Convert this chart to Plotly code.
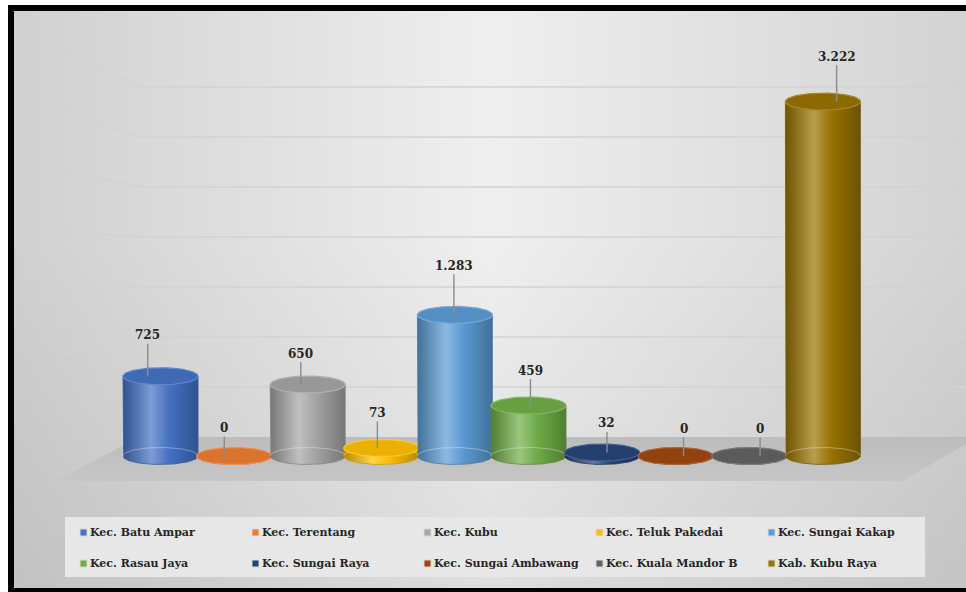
import math
import plotly.graph_objects as go

# ---------------- data ----------------
categories = ["Kec. Batu Ampar", "Kec. Terentang", "Kec. Kubu", "Kec. Teluk Pakedai",
              "Kec. Sungai Kakap", "Kec. Rasau Jaya", "Kec. Sungai Raya",
              "Kec. Sungai Ambawang", "Kec. Kuala Mandor B", "Kab. Kubu Raya"]
values = [725, 0, 650, 73, 1283, 459, 32, 0, 0, 3222]
value_labels = ["725", "0", "650", "73", "1.283", "459", "32", "0", "0", "3.222"]
grid_values = [500, 1000, 1500, 2000, 2500, 3000, 3500]

# ---------------- styling ----------------
colors = ["#4472C4", "#ED7D31", "#A5A5A5", "#FFC000", "#5B9BD5",
          "#70AD47", "#264478", "#9E480E", "#636363", "#997300"]
label_offsets_px = [41, 28, 31, 35, 49, 35, 29, 27, 27, 45]

W, H = 966, 592
X0, DX = 160.5, 73.6          # pixel centre of first cylinder, spacing
FRONT_BASE, KF = 456.0, 0.110  # front (cylinder) scale
WALL_BASE, KW = 437.0, 0.100   # back-wall scale
HW = 0.51                      # half width of cylinder (category units)
RY_PX = 8.5                    # vertical semi axis of ellipses (px)
FONT = "DejaVu Serif"


def xp(px):
    return (px - X0) / DX


def yw(py):
    return (WALL_BASE - py) / KW


def hex2rgb(h):
    h = h.lstrip("#")
    return tuple(int(h[i:i + 2], 16) for i in (0, 2, 4))


def mix(c, target, t):
    r, g, b = hex2rgb(c)
    tr, tg, tb = target
    return "rgb(%d,%d,%d)" % (round(r + (tr - r) * t), round(g + (tg - g) * t), round(b + (tb - b) * t))


fig = go.Figure()

# ---------------- background (wall scale, main axes) ----------------
bx = [xp(14), xp(966), xp(966), xp(14), xp(14)]
by = [yw(11), yw(11), yw(588), yw(588), yw(11)]
fig.add_trace(go.Scatter(x=bx, y=by, mode="lines", fill="toself", line=dict(width=0),
                         fillgradient=dict(type="horizontal",
                                           colorscale=[[0, "#d0d0d0"], [0.5, "#efefef"], [1, "#d3d3d3"]]),
                         hoverinfo="skip", showlegend=False))
fig.add_trace(go.Scatter(x=bx, y=by, mode="lines", fill="toself", line=dict(width=0),
                         fillgradient=dict(type="vertical",
                                           colorscale=[[0, "rgba(0,0,0,0.07)"], [0.6, "rgba(0,0,0,0)"],
                                                       [1, "rgba(0,0,0,0)"]]),
                         hoverinfo="skip", showlegend=False))

# floor
fx = [xp(55), xp(903), xp(966), xp(966), xp(140), xp(55)]
fy = [yw(481), yw(481), yw(444), yw(437), yw(437), yw(481)]
fig.add_trace(go.Scatter(x=fx, y=fy, mode="lines", fill="toself", line=dict(width=0),
                         fillgradient=dict(type="vertical",
                                           colorscale=[[0, "#c6c6c6"], [1, "#bcbcbc"]]),
                         hoverinfo="skip", showlegend=False))

# wall gridlines (back wall + left wall in perspective)
VPX, VPY = 483.0, 262.0
gx, gy = [], []
for g in grid_values:
    py = WALL_BASE - g * KW
    left_py = py - (140 - 60) * (VPY - py) / (VPX - 140)
    gx += [xp(60), xp(140), xp(966), None]
    gy += [yw(left_py), g, g, None]
fig.add_trace(go.Scatter(x=gx, y=gy, mode="lines", line=dict(color="#d2d2d2", width=1.3),
                         hoverinfo="skip", showlegend=False))

# ---------------- cylinders (front scale, y2) ----------------
ry = RY_PX / KF
N = 48
for i, (v, c) in enumerate(zip(values, colors)):
    dark = mix(c, (0, 0, 0), 0.28)
    light = mix(c, (255, 255, 255), 0.30)
    mid = mix(c, (0, 0, 0), 0.02)
    # body
    xs = [i - HW, i - HW]
    ys = [v, 0]
    for k in range(N + 1):
        t = math.pi + math.pi * k / N
        xs.append(i + HW * math.cos(t))
        ys.append(ry * math.sin(t))
    xs += [i + HW, i - HW]
    ys += [v, v]
    fig.add_trace(go.Scatter(x=xs, y=ys, yaxis="y2", mode="lines", fill="toself",
                             line=dict(width=0.8, color=mix(c, (0, 0, 0), 0.2)),
                             fillgradient=dict(type="horizontal",
                                               colorscale=[[0, dark], [0.38, light], [0.62, mid], [1, dark]]),
                             hoverinfo="skip", showlegend=False))
    # faint back half of base ellipse (transparent look)
    if v > 0:
        ax_, ay_ = [], []
        for k in range(N + 1):
            t = math.pi * k / N
            ax_.append(i + HW * math.cos(t))
            ay_.append(ry * math.sin(t))
        fig.add_trace(go.Scatter(x=ax_, y=ay_, yaxis="y2", mode="lines",
                                 line=dict(width=1, color="rgba(255,255,255,0.35)"),
                                 hoverinfo="skip", showlegend=False))
    # top face
    tx, ty = [], []
    for k in range(N * 2 + 1):
        t = 2 * math.pi * k / (2 * N)
        tx.append(i + HW * math.cos(t))
        ty.append(v + ry * math.sin(t))
    fig.add_trace(go.Scatter(x=tx, y=ty, yaxis="y2", mode="lines", fill="toself",
                             fillcolor=mix(c, (0, 0, 0), 0.08),
                             line=dict(width=1.2, color=mix(c, (255, 255, 255), 0.15)),
                             hoverinfo="skip", showlegend=False))

# ---------------- data labels with leader lines ----------------
annotations = []
for i, (v, lab, off) in enumerate(zip(values, value_labels, label_offsets_px)):
    cpx = X0 + DX * i
    shift = (cpx - 480) * 0.04 / DX
    annotations.append(dict(x=i + shift, y=v, xref="x", yref="y2", text=lab,
                            showarrow=True, arrowhead=0, arrowwidth=1.4, arrowcolor="#8c8c8c",
                            ax=0, ay=-off, standoff=0, startstandoff=0, borderpad=1,
                            font=dict(family=FONT, size=12, color="#262626", weight="bold")))

# ---------------- legend (manual) ----------------
shapes = []


def pr(x0, y0, x1, y1, color, layer="above"):
    return dict(type="rect", xref="paper", yref="paper", x0=x0 / W, x1=x1 / W,
                y0=1 - y1 / H, y1=1 - y0 / H, fillcolor=color, line=dict(width=0), layer=layer)


shapes.append(pr(65, 517, 925, 577, "#e7e7e7", layer="above"))
for k, (name, c) in enumerate(zip(categories, colors)):
    row, col = divmod(k, 5)
    lx = 80 + 172 * col
    ly = 532 + 31 * row
    shapes.append(dict(type="rect", xref="paper", yref="paper",
                       x0=lx / W, x1=(lx + 7) / W, y0=1 - (ly + 4) / H, y1=1 - (ly - 3) / H,
                       fillcolor=c, line=dict(width=1, color="#d8d8d8"), layer="above"))
    annotations.append(dict(x=(lx + 8) / W, y=1 - ly / H, xref="paper", yref="paper",
                            xanchor="left", yanchor="middle", text=name, showarrow=False,
                            font=dict(family=FONT, size=11, color="#262626", weight="bold")))

# black frame
shapes.append(pr(8, 5, 14, 592, "#000000"))
shapes.append(pr(8, 5, 966, 11, "#000000"))
shapes.append(pr(8, 588, 966, 592, "#000000"))

fig.update_layout(
    width=W, height=H, margin=dict(l=0, r=0, t=0, b=0),
    paper_bgcolor="#ffffff", plot_bgcolor="rgba(0,0,0,0)",
    xaxis=dict(range=[xp(0), xp(W)], visible=False, fixedrange=True, domain=[0, 1]),
    yaxis=dict(range=[yw(H), yw(0)], visible=False, fixedrange=True, domain=[0, 1]),
    yaxis2=dict(range=[(FRONT_BASE - H) / KF, FRONT_BASE / KF], visible=False,
                fixedrange=True, overlaying="y"),
    shapes=shapes, annotations=annotations, showlegend=False,
)

fig.write_html("out.html")
